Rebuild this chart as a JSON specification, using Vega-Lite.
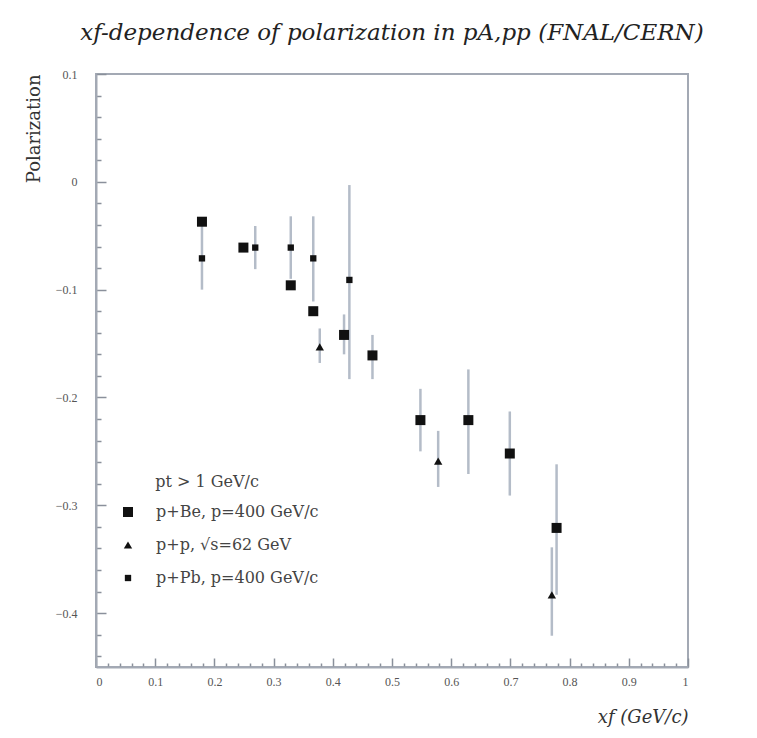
{
  "$schema": "https://vega.github.io/schema/vega-lite/v6.json",
  "width": 592,
  "height": 593,
  "autosize": "none",
  "padding": {"left": 96, "top": 74, "right": 69, "bottom": 71},
  "background": "white",
  "title": {
    "text": "xf-dependence of polarization in pA,pp (FNAL/CERN)",
    "font": "DejaVu Serif",
    "fontStyle": "italic",
    "fontWeight": "normal",
    "fontSize": 23,
    "color": "#222222",
    "anchor": "middle",
    "offset": 23
  },
  "config": {
    "view": {"stroke": "#a3a9b4", "strokeWidth": 2},
    "axis": {
      "domainColor": "#a3a9b4",
      "domainWidth": 2,
      "tickColor": "#8a909b",
      "tickWidth": 1.5,
      "grid": false,
      "labelFont": "Liberation Serif",
      "labelFontSize": 12,
      "labelColor": "#555555",
      "titleFont": "DejaVu Serif",
      "titleFontWeight": "normal",
      "titleColor": "#333333",
      "labelOverlap": false
    }
  },
  "datasets": {
    "pts": [
      {"series": "p+Be, p=400 GeV/c", "xf": 0.179, "pol": -0.037, "lo": null, "hi": null},
      {"series": "p+Pb, p=400 GeV/c", "xf": 0.179, "pol": -0.071, "lo": -0.100, "hi": -0.037},
      {"series": "p+Be, p=400 GeV/c", "xf": 0.249, "pol": -0.061, "lo": null, "hi": null},
      {"series": "p+Pb, p=400 GeV/c", "xf": 0.269, "pol": -0.061, "lo": -0.081, "hi": -0.041},
      {"series": "p+Pb, p=400 GeV/c", "xf": 0.329, "pol": -0.061, "lo": -0.090, "hi": -0.032},
      {"series": "p+Be, p=400 GeV/c", "xf": 0.329, "pol": -0.096, "lo": null, "hi": null},
      {"series": "p+Pb, p=400 GeV/c", "xf": 0.367, "pol": -0.071, "lo": -0.111, "hi": -0.032},
      {"series": "p+Be, p=400 GeV/c", "xf": 0.367, "pol": -0.120, "lo": null, "hi": null},
      {"series": "p+p, √s=62 GeV", "xf": 0.378, "pol": -0.153, "lo": -0.168, "hi": -0.136},
      {"series": "p+Pb, p=400 GeV/c", "xf": 0.428, "pol": -0.091, "lo": -0.183, "hi": -0.003},
      {"series": "p+Be, p=400 GeV/c", "xf": 0.419, "pol": -0.142, "lo": -0.160, "hi": -0.123},
      {"series": "p+Be, p=400 GeV/c", "xf": 0.467, "pol": -0.161, "lo": -0.183, "hi": -0.142},
      {"series": "p+Be, p=400 GeV/c", "xf": 0.548, "pol": -0.221, "lo": -0.250, "hi": -0.192},
      {"series": "p+p, √s=62 GeV", "xf": 0.578, "pol": -0.259, "lo": -0.283, "hi": -0.231},
      {"series": "p+Be, p=400 GeV/c", "xf": 0.629, "pol": -0.221, "lo": -0.271, "hi": -0.174},
      {"series": "p+Be, p=400 GeV/c", "xf": 0.699, "pol": -0.252, "lo": -0.291, "hi": -0.213},
      {"series": "p+Be, p=400 GeV/c", "xf": 0.778, "pol": -0.321, "lo": -0.383, "hi": -0.262},
      {"series": "p+p, √s=62 GeV", "xf": 0.770, "pol": -0.383, "lo": -0.421, "hi": -0.339}
    ],
    "note": [
      {"xf": 0.1, "pol": -0.278, "text": "pt > 1 GeV/c"}
    ]
  },
  "encoding": {
    "x": {
      "field": "xf",
      "type": "quantitative",
      "scale": {"domain": [0, 1], "nice": false, "zero": false},
      "axis": {
        "title": "xf (GeV/c)",
        "titleFontStyle": "italic",
        "titleFontSize": 18,
        "titleAnchor": "end",
        "titlePadding": 16,
        "values": [0,0.02,0.04,0.06,0.08,0.1,0.12,0.14,0.16,0.18,0.2,0.22,0.24,0.26,0.28,0.3,0.32,0.34,0.36,0.38,0.4,0.42,0.44,0.46,0.48,0.5,0.52,0.54,0.56,0.58,0.6,0.62,0.64,0.66,0.68,0.7,0.72,0.74,0.76,0.78,0.8,0.82,0.84,0.86,0.88,0.9,0.92,0.94,0.96,0.98,1],
        "format": "~g",
        "labelExpr": "abs(datum.value*10 - round(datum.value*10)) < 0.001 ? datum.label : ''",
        "tickSize": {"condition": {"test": "abs(datum.value*10 - round(datum.value*10)) < 0.001", "value": -9}, "value": -4},
        "labelPadding": 18
      }
    },
    "y": {
      "field": "pol",
      "type": "quantitative",
      "scale": {"domain": [-0.45, 0.1], "nice": false, "zero": false},
      "axis": {
        "title": "Polarization",
        "titleFontSize": 18,
        "titleAnchor": "end",
        "titlePadding": 12,
        "values": [-0.44,-0.42,-0.4,-0.38,-0.36,-0.34,-0.32,-0.3,-0.28,-0.26,-0.24,-0.22,-0.2,-0.18,-0.16,-0.14,-0.12,-0.1,-0.08,-0.06,-0.04,-0.02,0,0.02,0.04,0.06,0.08,0.1],
        "format": "~g",
        "labelExpr": "abs(datum.value*10 - round(datum.value*10)) < 0.001 ? datum.label : ''",
        "tickSize": {"condition": {"test": "abs(datum.value*10 - round(datum.value*10)) < 0.001", "value": -10}, "value": -5},
        "labelPadding": 29
      }
    }
  },
  "layer": [
    {
      "mark": {"type": "rule", "color": "#dfe9f6", "strokeWidth": 2},
      "encoding": {"y": {"datum": 0}, "x": null}
    },
    {
      "data": {"name": "pts"},
      "transform": [{"filter": "datum.lo != null"}],
      "mark": {"type": "rule", "color": "#b4bcc8", "strokeWidth": 2.5},
      "encoding": {
        "y": {"field": "lo", "type": "quantitative"},
        "y2": {"field": "hi"}
      }
    },
    {
      "data": {"name": "pts"},
      "mark": {"type": "point", "filled": true, "opacity": 1, "color": "#111111"},
      "encoding": {
        "shape": {
          "field": "series",
          "type": "nominal",
          "scale": {"domain": ["p+Be, p=400 GeV/c", "p+p, √s=62 GeV", "p+Pb, p=400 GeV/c"], "range": ["square", "triangle-up", "square"]},
          "legend": {
            "title": null,
            "orient": "none",
            "legendX": 24,
            "legendY": 430,
            "rowPadding": 17,
            "labelOffset": 20,
            "labelLimit": 400,
            "labelFont": "DejaVu Serif",
            "labelFontSize": 16,
            "labelColor": "#444444",
            "symbolFillColor": "#111111",
            "symbolStrokeColor": "#111111"
          }
        },
        "size": {
          "field": "series",
          "type": "nominal",
          "scale": {"domain": ["p+Be, p=400 GeV/c", "p+p, √s=62 GeV", "p+Pb, p=400 GeV/c"], "range": [100, 40, 55]},
          "legend": {
            "title": null,
            "orient": "none",
            "legendX": 24,
            "legendY": 430,
            "rowPadding": 17,
            "labelOffset": 20,
            "labelLimit": 400,
            "labelFont": "DejaVu Serif",
            "labelFontSize": 16,
            "labelColor": "#444444",
            "symbolFillColor": "#111111",
            "symbolStrokeColor": "#111111"
          }
        }
      }
    },
    {
      "data": {"name": "note"},
      "mark": {"type": "text", "align": "left", "baseline": "middle", "font": "DejaVu Serif", "fontSize": 16, "color": "#444444"},
      "encoding": {"text": {"field": "text"}}
    }
  ]
}
